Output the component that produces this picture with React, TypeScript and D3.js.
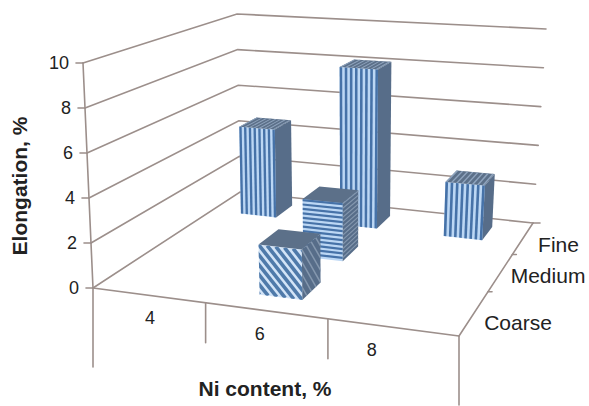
import React from "react";
import * as d3 from "d3";

// Chart content
const niContents = ["4", "6", "8"];
const grainSizes = ["Coarse", "Medium", "Fine"];
const coarseValues = [null, 2.2, null];
const mediumValues = [null, 2.75, null];
const fineValues = [4.6, 8.1, 2.7];
const elongationTicks = [0, 2, 4, 6, 8, 10];

type Pt = [number, number];
const WIDTH = 589;
const HEIGHT = 406;

// Screen positions of the box corners: front-left, front-right, back-right, back-left
const floorCorners: Pt[] = [[93, 288], [459, 336], [533, 223], [240, 192]];
const ceilingCorners: Pt[] = [[83, 63], [474, 91], [546, 29], [237, 14]];

// Label nudges along the perspective axes
const niLabelShift = [0, -9, -22];
const grainLabelShift: Pt[] = [[10, 17], [10, 11], [15, 14]];
// Positions of the drop lines along the front edge
const dropStops = [0, 0.325, 0.66, 1];
const dropLengths = [79, 40, 40, 69];

// Maps the unit square on to a quadrilateral (projective mapping)
function quadMapping(q: Pt[]) {
  const [[x0, y0], [x1, y1], [x2, y2], [x3, y3]] = q;
  const dx1 = x1 - x2, dx2 = x3 - x2, sx = x0 - x1 + x2 - x3;
  const dy1 = y1 - y2, dy2 = y3 - y2, sy = y0 - y1 + y2 - y3;
  const den = dx1 * dy2 - dx2 * dy1;
  const g = (sx * dy2 - dx2 * sy) / den;
  const h = (dx1 * sy - sx * dy1) / den;
  const a = x1 - x0 + g * x1, b = x3 - x0 + h * x3;
  const d = y1 - y0 + g * y1, e = y3 - y0 + h * y3;
  return (u: number, v: number): Pt => {
    const w = g * u + h * v + 1;
    return [(a * u + b * v + x0) / w, (d * u + e * v + y0) / w];
  };
}

const floorMap = quadMapping(floorCorners);
const ceilingMap = quadMapping(ceilingCorners);

const xBand = d3.scaleBand<string>().domain(niContents).range([0, 1]);
const depthBand = d3.scaleBand<string>().domain(grainSizes).range([0, 1]);
const zScale = d3.scaleLinear().domain([0, 10]).range([0, 1]);

function project(u: number, v: number, value: number): Pt {
  const f = floorMap(u, v);
  const c = ceilingMap(u, v);
  const t = zScale(value);
  return [f[0] + (c[0] - f[0]) * t, f[1] + (c[1] - f[1]) * t];
}

const linePath = d3.line<Pt>();
const polyPath = (pts: Pt[]) => linePath(pts) + "Z";
const lerp = (a: Pt, b: Pt, t: number): Pt => [a[0] + (b[0] - a[0]) * t, a[1] + (b[1] - a[1]) * t];
// Bilinear point on a face: p00, p10, p11, p01
const facePoint = (f: Pt[], s: number, t: number) => lerp(lerp(f[0], f[1], s), lerp(f[3], f[2], s), t);

const AXIS = "#9c8f8b";
const DARK = "#4672a8";
const LIGHT = "#bcd7f4";
const SIDE = "#576d89";
const SIDE_LINE = "#8497ae";
const TOP = "#5c7089";
const TOP_LINE = "#8fa4be";

type Pattern = "vertical" | "horizontal" | "diagonal";

function stripes(face: Pt[], dir: Pattern, n: number, color: string, key: string, width?: number) {
  const out: React.ReactNode[] = [];
  const strip = (s0: number, s1: number, i: number) => {
    const pts =
      dir === "vertical"
        ? [facePoint(face, s0, 0), facePoint(face, s1, 0), facePoint(face, s1, 1), facePoint(face, s0, 1)]
        : [facePoint(face, 0, s0), facePoint(face, 0, s1), facePoint(face, 1, s1), facePoint(face, 1, s0)];
    out.push(<path key={key + i} d={polyPath(pts)} fill={color} />);
  };
  const w = width ?? 0.5;
  for (let i = 0; i < n; i++) strip(i / n, (i + w) / n, i);
  return out;
}

// Diagonal hatching over a face, kept inside it by a clip path
function hatch(face: Pt[], n: number, color: string, id: string, strokeWidth: number) {
  return (
    <g clipPath={`url(#${id})`}>
      <clipPath id={id}><path d={polyPath(face)} /></clipPath>
      {d3.range(-n, n + 1).map((i) => {
        const s = i / n;
        // Runs from the upper left down to the lower right of the face
        const a = facePoint(face, s, 0);
        const b = facePoint(face, s + 1, 1);
        return <path key={i} d={linePath([a, b]) ?? ""} stroke={color} strokeWidth={strokeWidth} fill="none" />;
      })}
    </g>
  );
}

function Bar({ cat, row, value, pattern, id }: { cat: number; row: number; value: number; pattern: Pattern; id: string }) {
  const bw = xBand.bandwidth();
  const bd = depthBand.bandwidth();
  const uC = (xBand(niContents[cat]) ?? 0) + bw / 2 - bw * 0.02;
  const vC = (depthBand(grainSizes[row]) ?? 0) + bd / 2;
  const hu = bw * 0.18;
  const [u0, u1, v0, v1] = [uC - hu, uC + hu, vC - bd * 0.19, vC + bd * 0.24];
  const front: Pt[] = [project(u0, v0, value), project(u1, v0, value), project(u1, v0, 0), project(u0, v0, 0)];
  const side: Pt[] = [project(u1, v0, value), project(u1, v1, value), project(u1, v1, 0), project(u1, v0, 0)];
  const top: Pt[] = [project(u0, v1, value), project(u1, v1, value), project(u1, v0, value), project(u0, v0, value)];
  return (
    <g>
      <path d={polyPath(front)} fill={pattern === "diagonal" ? "#d3e4f7" : LIGHT} />
      <path d={polyPath(side)} fill={SIDE} />
      <path d={polyPath(top)} fill={TOP} />
      {pattern === "vertical" && (
        <>
          {stripes(front, "vertical", 7.5, DARK, "f")}
          {stripes(top, "vertical", 7.5, TOP_LINE, "t", 0.35)}
        </>
      )}
      {pattern === "horizontal" && (
        <>
          {stripes(front, "horizontal", 13, DARK, "f")}
          {stripes(side, "horizontal", 13, SIDE_LINE, "s", 0.35)}
        </>
      )}
      {pattern === "diagonal" && (
        <>
          {hatch(front, 5, "#4f7aaa", id + "f", 3.6)}
          {hatch(side, 4, SIDE_LINE, id + "s", 1.5)}
        </>
      )}
    </g>
  );
}

export default function App() {
  const font = "'Liberation Sans', Arial, sans-serif";
  const axis = { stroke: AXIS, strokeWidth: 1.6, fill: "none", strokeLinecap: "round" as const };
  const seg = (a: Pt, b: Pt) => linePath([a, b]) ?? "";

  const bars: { cat: number; row: number; value: number | null; pattern: Pattern }[] = [
    ...fineValues.map((value, cat) => ({ cat, row: 2, value, pattern: "vertical" as Pattern })),
    ...mediumValues.map((value, cat) => ({ cat, row: 1, value, pattern: "horizontal" as Pattern })),
    ...coarseValues.map((value, cat) => ({ cat, row: 0, value, pattern: "diagonal" as Pattern })),
  ];

  const A = project(0, 0, 0);
  const B = project(1, 0, 0);
  const C = project(1, 1, 0);

  return (
    <svg
      width={WIDTH}
      height={HEIGHT}
      viewBox={`0 0 ${WIDTH} ${HEIGHT}`}
      style={{ position: "absolute", left: 0, top: 0, background: "#fff", fontFamily: font }}
    >
      {/* Wall gridlines */}
      {elongationTicks.map((t) => (
        <path
          key={t}
          {...axis}
          d={linePath([project(0, 0, t), project(0, 1, t), project(1, 1, t)]) ?? ""}
        />
      ))}
      {/* Value axis with its ticks and labels */}
      <path {...axis} d={seg(project(0, 0, 10), A)} />
      {elongationTicks.map((t) => {
        const p = project(0, 0, t);
        return (
          <g key={t}>
            <path {...axis} d={seg([p[0] - 7, p[1]], p)} />
            <text x={p[0] - 14} y={p[1] + 6} textAnchor="end" fontSize={18} fill="#222">{t}</text>
          </g>
        );
      })}
      {/* Floor outline */}
      <path {...axis} d={seg(A, B)} />
      <path {...axis} d={seg(B, C)} />
      <path {...axis} d={seg(C, [C[0] + 7, C[1]])} />
      {/* Drop lines under the front edge */}
      {dropStops.map((d, i) => {
        const p = project(d, 0, 0);
        return <path key={i} {...axis} d={seg(p, [p[0], p[1] + dropLengths[i]])} />;
      })}
      {/* Depth ticks along the right floor edge */}
      {[1 / 3, 2 / 3].map((d, i) => {
        const p = project(1, d, 0);
        return <path key={i} {...axis} d={seg(p, [p[0] + 4, p[1]])} />;
      })}
      {/* Columns, back row first */}
      {bars.map((b, i) =>
        b.value === null ? null : (
          <Bar key={i} id={`bar${i}`} cat={b.cat} row={b.row} value={b.value} pattern={b.pattern} />
        )
      )}
      {/* Category labels */}
      {niContents.map((c, i) => {
        const p = project((xBand(c) ?? 0) + xBand.bandwidth() / 2, 0, 0);
        return <text key={c} x={p[0] + niLabelShift[i]} y={p[1] + 29} textAnchor="middle" fontSize={18} fill="#222">{c}</text>;
      })}
      {grainSizes.map((g, i) => {
        const p = project(1, (depthBand(g) ?? 0) + depthBand.bandwidth() / 2, 0);
        return <text key={g} x={p[0] + grainLabelShift[i][0]} y={p[1] + grainLabelShift[i][1]} fontSize={21} fill="#222">{g}</text>;
      })}
      {/* Axis titles */}
      <text x={265} y={396} textAnchor="middle" fontSize={21} fontWeight="bold" fill="#222">Ni content, %</text>
      <text transform="translate(27,186) rotate(-90)" textAnchor="middle" fontSize={21} fontWeight="bold" fill="#222">Elongation, %</text>
    </svg>
  );
}
